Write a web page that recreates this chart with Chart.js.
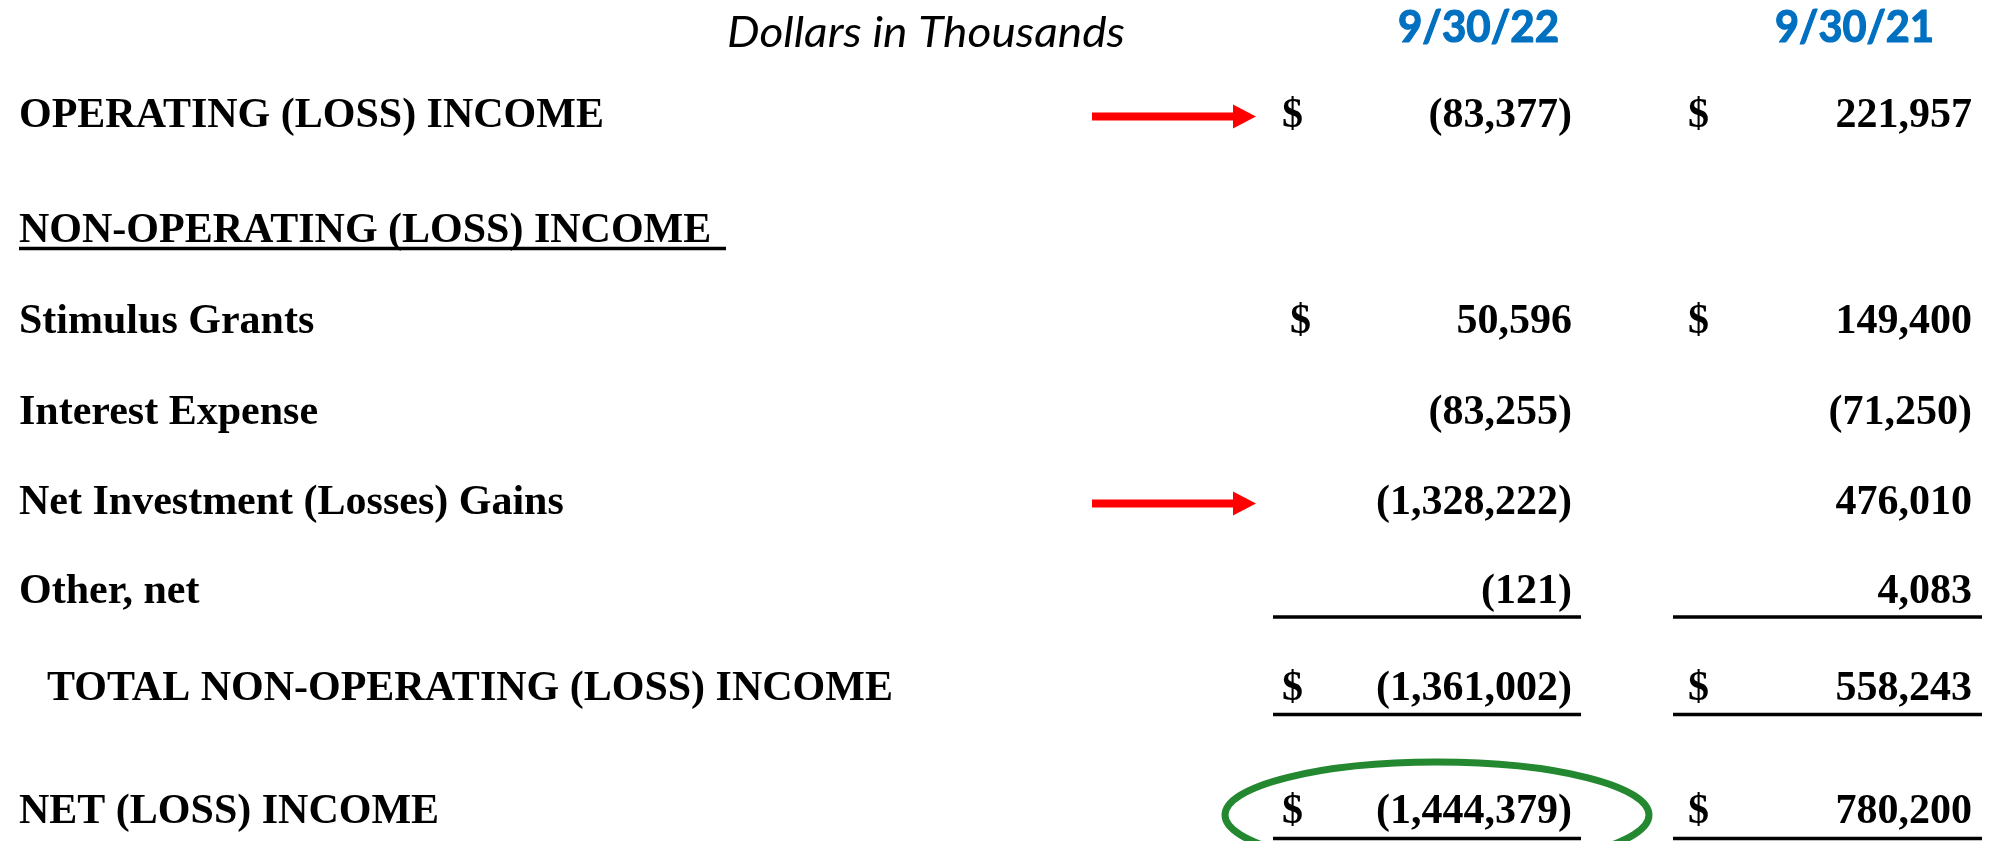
<!DOCTYPE html>
<html>
<head>
<meta charset="utf-8">
<script src="https://cdn.jsdelivr.net/npm/chart.js@4"></script>
<style>
  html, body { margin: 0; padding: 0; background: #ffffff; }
  #wrap { width: 1989px; height: 841px; position: relative; }
</style>
</head>
<body>
<div id="wrap"><canvas id="c"></canvas></div>
<script>
// ---------------- DATA ----------------
const unitLabel = 'Dollars in Thousands';
const columnLabels = ['9/30/22', '9/30/21'];
const categories = [
  'OPERATING (LOSS) INCOME',
  'NON-OPERATING (LOSS) INCOME',
  'Stimulus Grants',
  'Interest Expense',
  'Net Investment (Losses) Gains',
  'Other, net',
  'TOTAL NON-OPERATING (LOSS) INCOME',
  'NET (LOSS) INCOME'
];
const values2022 = [-83377, null, 50596, -83255, -1328222, -121, -1361002, -1444379];
const values2021 = [221957, null, 149400, -71250, 476010, 4083, 558243, 780200];
const showDollar = [true, false, true, false, false, false, true, true];
const isSectionHeader = [false, true, false, false, false, false, false, false];
const isIndented = [false, false, false, false, false, false, true, false];
const ruleAfter = [false, false, false, false, false, true, true, true];
const arrowRows = [0, 4];
const circledRow = 7;

// ---------------- LAYOUT (layout units = scale values) ----------------
const layout = {
  xMax: 1989, yMax: 841,
  labelX: 19, indentX: 47,
  rowBaseline: [127, 242, 333, 424, 514, 603, 700, 823],
  ruleOffset: [0, 6.5, 0, 0, 0, 14, 14.5, 15.5],
  sectionRuleRight: 726,
  dollarX: [1282, 1688],
  dollarShift: [[0, 0], [0, 0], [8, 0], [0, 0], [0, 0], [0, 0], [0, 0], [0, 0]],
  valueRight: [1572, 1972],
  rule: [[1273, 1581], [1673, 1982]],
  headerBaseline: 42, unitBaseline: 47,
  unitX: 727, unitW: 398,
  dateX: [1398, 1775], dateW: [161, 159],
  arrowX0: 1092, arrowHeadX: 1233, arrowTip: 1256, arrowDy: -10.5,
  ellipseCx: 1437, ellipseDy: -8, ellipseRx: 212, ellipseRy: 53
};
const styles = {
  serif: 'bold 42px "Liberation Serif", "Times New Roman", serif',
  unitFont: 'italic 43px Lato, "Open Sans", sans-serif',
  dateFont: 'bold 43px Lato, "Open Sans", sans-serif',
  blue: '#0070C0', red: '#FF0000', green: '#23882F', black: '#000000'
};

function fmt(v) {
  if (v === null) return '';
  const s = Math.abs(v).toLocaleString('en-US');
  return v < 0 ? '(' + s + ')' : s;
}

function fitText(ctx, text, x, y, w, strokeW) {
  const m = ctx.measureText(text).width;
  const sx = w / m;
  ctx.save();
  ctx.translate(x, y);
  ctx.scale(sx, 1);
  ctx.textAlign = 'left';
  ctx.fillText(text, 0, 0);
  if (strokeW) {
    ctx.lineWidth = strokeW;
    ctx.lineJoin = 'round';
    ctx.strokeText(text, 0, 0);
  }
  ctx.restore();
}

const tablePlugin = {
  id: 'tablePlugin',
  afterDraw(chart) {
    const ctx = chart.ctx;
    const xs = chart.scales.x, ys = chart.scales.y;
    const X = v => xs.getPixelForValue(v);
    const Y = v => ys.getPixelForValue(v);
    ctx.save();
    ctx.textBaseline = 'alphabetic';

    // header
    ctx.fillStyle = styles.black;
    ctx.font = styles.unitFont;
    fitText(ctx, unitLabel, X(layout.unitX), Y(layout.unitBaseline), X(layout.unitX + layout.unitW) - X(layout.unitX));
    ctx.fillStyle = styles.blue;
    ctx.strokeStyle = styles.blue;
    ctx.font = styles.dateFont;
    columnLabels.forEach((lab, i) => {
      fitText(ctx, lab, X(layout.dateX[i]), Y(layout.headerBaseline), X(layout.dateX[i] + layout.dateW[i]) - X(layout.dateX[i]), 1.2);
    });

    // rows
    ctx.font = styles.serif;
    ctx.fillStyle = styles.black;
    ctx.strokeStyle = styles.black;
    const series = [values2022, values2021];
    categories.forEach((cat, r) => {
      const by = Y(layout.rowBaseline[r]);
      const lx = X(isIndented[r] ? layout.indentX : layout.labelX);
      ctx.textAlign = 'left';
      ctx.fillText(cat, lx, by);
      if (isSectionHeader[r]) {
        const ry = Y(layout.rowBaseline[r] + layout.ruleOffset[r]);
        ctx.fillRect(lx, ry - 1.75, X(layout.sectionRuleRight) - lx, 3.5);
      }
      series.forEach((vals, c) => {
        if (showDollar[r]) {
          ctx.textAlign = 'left';
          ctx.fillText('$', X(layout.dollarX[c] + layout.dollarShift[r][c]), by);
        }
        if (vals[r] !== null) {
          ctx.textAlign = 'right';
          ctx.fillText(fmt(vals[r]), X(layout.valueRight[c]), by);
        }
        if (ruleAfter[r]) {
          const ry = Y(layout.rowBaseline[r] + layout.ruleOffset[r]);
          const x0 = X(layout.rule[c][0]), x1 = X(layout.rule[c][1]);
          ctx.fillRect(x0, ry - 1.75, x1 - x0, 3.5);
        }
      });
    });

    // arrows
    ctx.fillStyle = styles.red;
    arrowRows.forEach(r => {
      const cy = Y(layout.rowBaseline[r] + layout.arrowDy);
      const x0 = X(layout.arrowX0), xh = X(layout.arrowHeadX), xt = X(layout.arrowTip);
      ctx.fillRect(x0, cy - 4, xh - x0 + 1, 8);
      ctx.beginPath();
      ctx.moveTo(xh, cy - 12);
      ctx.lineTo(xt, cy);
      ctx.lineTo(xh, cy + 12);
      ctx.closePath();
      ctx.fill();
    });

    // ellipse
    ctx.strokeStyle = styles.green;
    ctx.lineWidth = 7;
    ctx.beginPath();
    const ecy = Y(layout.rowBaseline[circledRow] + layout.ellipseDy);
    ctx.ellipse(X(layout.ellipseCx), ecy, Math.abs(X(layout.ellipseRx) - X(0)), Math.abs(Y(layout.ellipseRy) - Y(0)), 0, 0, Math.PI * 2);
    ctx.stroke();
    ctx.restore();
  }
};

new Chart(document.getElementById('c'), {
  type: 'scatter',
  data: { datasets: [{ label: 'table', data: [], pointRadius: 0 }] },
  options: {
    responsive: true,
    maintainAspectRatio: false,
    animation: false,
    layout: { padding: 0 },
    plugins: { legend: { display: false }, tooltip: { enabled: false }, title: { display: false } },
    scales: {
      x: { type: 'linear', min: 0, max: layout.xMax, display: false },
      y: { type: 'linear', min: 0, max: layout.yMax, reverse: true, display: false }
    }
  },
  plugins: [tablePlugin]
});
</script>
</body>
</html>
